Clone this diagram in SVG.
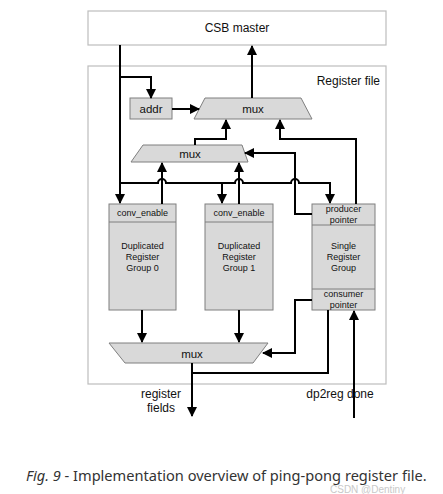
<svg xmlns="http://www.w3.org/2000/svg" width="443" height="494" viewBox="0 0 443 494">
<style>
.frame{fill:#fff;stroke:#bdbdbd;stroke-width:1.2}
.blk{fill:#d9d9d9;stroke:#7f7f7f;stroke-width:1}
.w{fill:none;stroke:#000;stroke-width:2}
.t{font-family:"Liberation Sans",Arial,sans-serif;fill:#111;text-anchor:middle}
.cap{font-family:"Noto Sans","Open Sans",sans-serif;fill:#333;font-size:14.6px}
</style>
<defs>
<marker id="ah" markerWidth="10" markerHeight="10" refX="9" refY="5" orient="auto" markerUnits="userSpaceOnUse">
<path d="M0,0 L10,5 L0,10 z" fill="#000"/>
</marker>
</defs>
<rect width="443" height="494" fill="#fff"/>
<g id="csb"><rect class="frame" x="88" y="11" width="298" height="34"/><text class="t" x="237" y="32" font-size="12">CSB master</text></g>
<g id="regfile"><rect class="frame" x="88" y="66" width="298" height="318"/><text class="t" x="380" y="85" font-size="12" style="text-anchor:end">Register file</text></g>
<g id="addr"><rect class="blk" x="130" y="98" width="42" height="21"/><text class="t" x="151" y="113" font-size="11.5">addr</text></g>
<g id="muxTop"><polygon class="blk" points="205,98 301,98 312,119 194,119"/><text class="t" x="253" y="113" font-size="11.5">mux</text></g>
<g id="muxMid"><polygon class="blk" points="143,145 242,145 248,162 131,162"/><text class="t" x="190" y="158" font-size="11.5">mux</text></g>
<g id="muxBot"><polygon class="blk" points="109,343 268,343 253,363 125,363"/><text class="t" x="192" y="358" font-size="11.5">mux</text></g>
<g id="dup0"><rect class="blk" x="109" y="204" width="67" height="106"/><line x1="109" y1="222" x2="176" y2="222" stroke="#7f7f7f"/>
<text class="t" x="142.5" y="216" font-size="9">conv_enable</text>
<text class="t" x="142.5" y="249" font-size="9">Duplicated</text><text class="t" x="142.5" y="260" font-size="9">Register</text><text class="t" x="142.5" y="271" font-size="9">Group 0</text></g>
<g id="dup1"><rect class="blk" x="205" y="204" width="68" height="106"/><line x1="205" y1="222" x2="273" y2="222" stroke="#7f7f7f"/>
<text class="t" x="239" y="216" font-size="9">conv_enable</text>
<text class="t" x="239" y="249" font-size="9">Duplicated</text><text class="t" x="239" y="260" font-size="9">Register</text><text class="t" x="239" y="271" font-size="9">Group 1</text></g>
<g id="single"><rect class="blk" x="312" y="204" width="63" height="106"/><line x1="312" y1="225" x2="375" y2="225" stroke="#7f7f7f"/><line x1="312" y1="289" x2="375" y2="289" stroke="#7f7f7f"/>
<text class="t" x="343.5" y="212" font-size="9">producer</text><text class="t" x="343.5" y="223" font-size="9">pointer</text>
<text class="t" x="343.5" y="249" font-size="9">Single</text><text class="t" x="343.5" y="260" font-size="9">Register</text><text class="t" x="343.5" y="271" font-size="9">Group</text>
<text class="t" x="343.5" y="297" font-size="9">consumer</text><text class="t" x="343.5" y="308" font-size="9">pointer</text></g>
<g id="connectors">
<path class="w" d="M120,45 V203" marker-end="url(#ah)"/>
<path class="w" d="M120,77 H151 V98" marker-end="url(#ah)"/>
<path class="w" d="M172,109 H199" marker-end="url(#ah)"/>
<path class="w" d="M252,98 V46" marker-end="url(#ah)"/>
<path class="w" d="M195,145 V139 H226 V120" marker-end="url(#ah)"/>
<path class="w" d="M356,204 V139 H280 V120" marker-end="url(#ah)"/>
<path class="w" d="M312,214 H295 V153 H245" marker-end="url(#ah)"/>
<path class="w" d="M120,183 H158 A4,4 0 0 1 166,183 H222 V203" marker-end="url(#ah)"/>
<path class="w" d="M222,183 H235 A4,4 0 0 1 243,183 H291 A4,4 0 0 1 299,183 H330 V203" marker-end="url(#ah)"/>
<path class="w" d="M162,204 V163" marker-end="url(#ah)"/>
<path class="w" d="M239,204 V163" marker-end="url(#ah)"/>
<path class="w" d="M142,310 V342" marker-end="url(#ah)"/>
<path class="w" d="M239,310 V342" marker-end="url(#ah)"/>
<path class="w" d="M312,300 H295 V353 H263" marker-end="url(#ah)"/>
<path class="w" d="M328,310 V373 H192"/>
<path class="w" d="M192,363 V416" marker-end="url(#ah)"/>
<path class="w" d="M354,418 V311" marker-end="url(#ah)"/>
</g>
<g id="labels">
<text class="t" x="161" y="398" font-size="12">register</text><text class="t" x="161" y="412" font-size="12">fields</text>
<text class="t" x="340" y="398" font-size="12">dp2reg done</text>
</g>
<text class="cap" x="26" y="481"><tspan font-style="italic">Fig. 9</tspan> - Implementation overview of ping-pong register file.</text>
<text x="330" y="493" font-family="'Liberation Sans',sans-serif" font-size="10" fill="#bbb" opacity="0.8">CSDN @Dentiny</text>
</svg>
